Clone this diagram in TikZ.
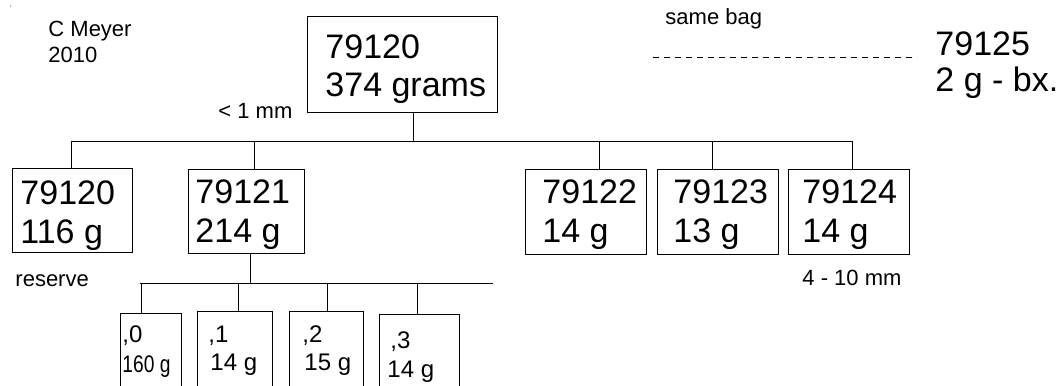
\documentclass[tikz,border=0pt]{standalone}
\usepackage{fontspec}
\setmainfont{Liberation Sans}
\begin{document}
\begin{tikzpicture}[x=1pt,y=-1pt,line width=0.9pt,
  box/.style={draw,rectangle,inner sep=0pt,anchor=north west},
  big/.style={anchor=base west,inner sep=0pt,font=\fontsize{34}{34}\selectfont},
  mid/.style={anchor=base west,inner sep=0pt,font=\fontsize{24}{24}\selectfont},
  small/.style={anchor=base west,inner sep=0pt,font=\fontsize{22}{22}\selectfont}]
\useasboundingbox (0,0) rectangle (1064,385);
\clip (0,0) rectangle (1064,385);
\fill[gray!60] (9.5,5.5) rectangle (11,7);
% labels
\node[small] (author) at (48,37) {C Meyer};
\node[small] (year) at (48,63) {2010};
\node[small] (fine) at (218,118) {< 1 mm};
\node[small] (same) at (665,25) {same bag};
\node[small] (res) at (15,286) {reserve};
\node[small] (coarse) at (802,285) {4 - 10 mm};
% top box
\node[box,minimum width=190pt,minimum height=96pt] (top) at (307,16) {};
\node[big] (t1) at (325,59) {79120};
\node[big] (t2) at (325,97) {374 grams};
% side entry
\node[big] (s1) at (935,56) {79125};
\node[big] (s2) at (935,92) {2 g - bx.};
\coordinate (dashL) at (653,57);
\coordinate (dashR) at (917,57);
\draw[dash pattern=on 6pt off 5pt,line width=0.8pt] (dashL) -- (dashR);
% children
\node[box,minimum width=120pt,minimum height=84pt] (c1) at (12,168) {};
\node[big] at (20,204) {79120};
\node[big] at (20,243) {116 g};
\node[box,minimum width=116pt,minimum height=84pt] (c2) at (188,169) {};
\node[big] at (195,203) {79121};
\node[big] at (195,242) {214 g};
\node[box,minimum width=121pt,minimum height=85pt] (c3) at (525,169) {};
\node[big] at (542,203) {79122};
\node[big] at (542,242) {14 g};
\node[box,minimum width=121pt,minimum height=85pt] (c4) at (657,169) {};
\node[big] at (673,203) {79123};
\node[big] at (673,242) {13 g};
\node[box,minimum width=121pt,minimum height=85pt] (c5) at (788,169) {};
\node[big] at (802,203) {79124};
\node[big] at (802,242) {14 g};
% connectors level 1
\coordinate (busT) at (413,141);
\coordinate (bus1) at (71,141);
\coordinate (bus2) at (254,141);
\coordinate (bus3) at (599,141);
\coordinate (bus4) at (712,141);
\coordinate (bus5) at (852,141);
\draw (top.south -| busT) -- (busT);
\draw (bus1) -- (bus5);
\draw (bus1) -- (c1.north -| bus1);
\draw (bus2) -- (c2.north -| bus2);
\draw (bus3) -- (c3.north -| bus3);
\draw (bus4) -- (c4.north -| bus4);
\draw (bus5) -- (c5.north -| bus5);
% sub boxes
\node[box,minimum width=61pt,minimum height=100pt] (d0) at (120,313) {};
\node[mid] at (122,342) {,0};
\node[mid] at (122,372) {\scalebox{0.8}[1]{160 g}};
\node[box,minimum width=75pt,minimum height=100pt] (d1) at (197,311) {};
\node[mid] at (208,342) {,1};
\node[mid] at (210,370) {14 g};
\node[box,minimum width=74pt,minimum height=100pt] (d2) at (289,311) {};
\node[mid] at (302,342) {,2};
\node[mid] at (304,370) {15 g};
\node[box,minimum width=80pt,minimum height=100pt] (d3) at (379,314) {};
\node[mid] at (390,348) {,3};
\node[mid] at (387,377) {14 g};
% connectors level 2
\coordinate (subT) at (250,283);
\coordinate (subL) at (140,283);
\coordinate (subR) at (493,283);
\coordinate (sub0) at (141,283);
\coordinate (sub1) at (238,283);
\coordinate (sub2) at (327,283);
\coordinate (sub3) at (417,283);
\draw (c2.south -| subT) -- (subT);
\draw (subL) -- (subR);
\draw (sub0) -- (d0.north -| sub0);
\draw (sub1) -- (d1.north -| sub1);
\draw (sub2) -- (d2.north -| sub2);
\draw (sub3) -- (d3.north -| sub3);
\end{tikzpicture}
\end{document}
